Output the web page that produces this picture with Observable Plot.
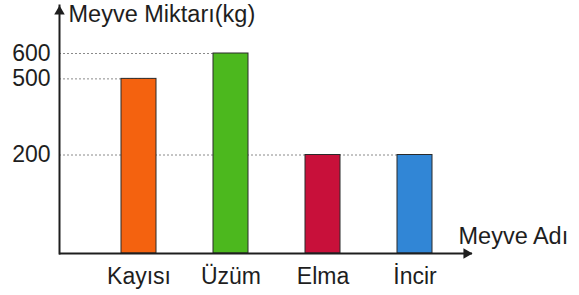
<!DOCTYPE html>
<html>
<head>
<meta charset="utf-8">
<script src="https://cdn.jsdelivr.net/npm/d3@7"></script>
<script src="https://cdn.jsdelivr.net/npm/@observablehq/plot@0.6"></script>
<style>
  html, body { margin: 0; padding: 0; background: #fff; }
  #chart svg { display: block; }
</style>
</head>
<body>
<div id="chart"></div>
<script>
// ---- data ----
const categories = ["Kayısı", "Üzüm", "Elma", "İncir"];
const values = [500, 600, 200, 200];
const colors = ["#F4620F", "#4CB81E", "#C8103A", "#3186D6"];
const yTicks = [200, 500, 600];
const yTitle = "Meyve Miktarı(kg)";
const xTitle = "Meyve Adı";

const bars = categories.map((c, i) => ({category: c, value: values[i]}));
// each dashed guide runs from the axis to the last bar having that value
const guides = yTicks.map(t => {
  let target = null;
  bars.forEach(b => { if (b.value === t) target = b.category; });
  return {value: t, target};
});

const ink = "#1e1e1e";
const chart = Plot.plot({
  width: 579,
  height: 295,
  marginLeft: 59,
  marginRight: 107,
  marginTop: 5,
  marginBottom: 42,
  style: {fontFamily: "'Liberation Sans', Arial, sans-serif", fontSize: "23px", color: ink, background: "#fff", overflow: "visible"},
  x: {
    type: "band",
    domain: categories,
    paddingInner: 0.621,
    paddingOuter: 0.548,
    align: 0.603,
    tickSize: 0,
    tickPadding: 14,
    label: null
  },
  y: {
    type: "linear",
    domain: [0, 200, 600, 790],
    range: [253, 154.5, 53, 5],
    ticks: yTicks,
    tickSize: 0,
    tickPadding: 9,
    tickFormat: d => String(d),
    label: null
  },
  color: {type: "ordinal", domain: categories, range: colors},
  marks: [
    // dashed guide: from the y axis (frame left) to the bar it points at; the bar covers its own part
    Plot.ruleY(guides, {
      y: "value", x1: "target", x2: "target",
      stroke: "#8a8a8a", strokeWidth: 1, strokeDasharray: "2,2",
      render(index, scales, vals, dims, context, next) {
        return next(index, scales, {...vals, x1: undefined}, dims, context);
      }
    }),
    Plot.barY(bars, {x: "category", y: "value", fill: "category", stroke: "#2a2a2a", strokeWidth: 1}),
    Plot.frame({anchor: "left", stroke: ink, strokeWidth: 2}),
    Plot.ruleY([0], {stroke: ink, strokeWidth: 2}),
    Plot.dot([0], {frameAnchor: "right", y: d => d, symbol: "triangle", rotate: 90, r: 3.9, fill: ink, stroke: null, dx: -6}),
    Plot.dot([0], {frameAnchor: "top-left", symbol: "triangle", r: 3.9, fill: ink, stroke: null, dy: 6}),
    Plot.text([yTitle], {frameAnchor: "top-left", text: d => d, textAnchor: "start", lineAnchor: "top", dx: 9, dy: 0, fill: ink, fontSize: 23.5}),
    Plot.text([xTitle], {frameAnchor: "bottom-right", text: d => d, textAnchor: "start", lineAnchor: "bottom", dx: -14, dy: -10, fill: ink, fontSize: 23.5})
  ]
});
document.getElementById("chart").appendChild(chart);
</script>
</body>
</html>
